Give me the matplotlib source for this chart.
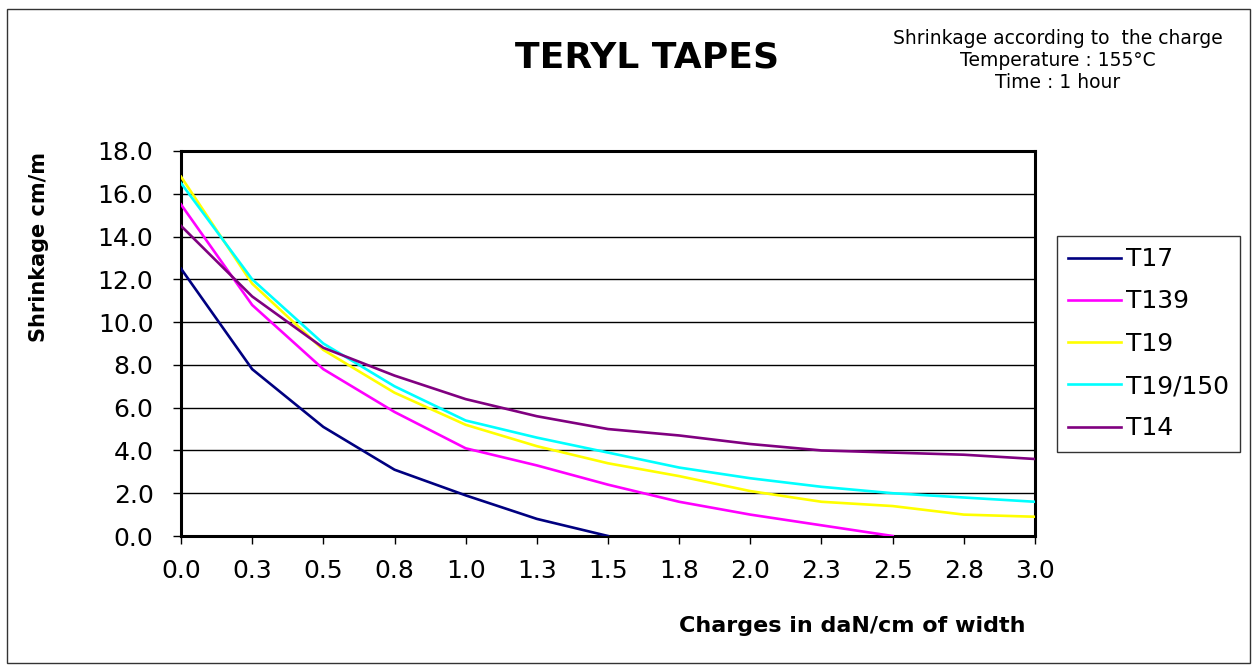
import numpy as np
import matplotlib
matplotlib.use("Agg")
import matplotlib.pyplot as plt
from matplotlib.patches import Rectangle

plt.rcParams['font.family'] = ['DejaVu Sans']

# charges in daN/cm of width (category axis in the original sheet)
charges = [0.0, 0.25, 0.5, 0.75, 1.0, 1.25, 1.5, 1.75, 2.0, 2.25, 2.5, 2.75, 3.0]
tick_labels = ["0.0", "0.3", "0.5", "0.8", "1.0", "1.3", "1.5", "1.8",
               "2.0", "2.3", "2.5", "2.8", "3.0"]

# shrinkage cm/m (None = no point)
t17 = [12.5, 7.8, 5.1, 3.1, 1.9, 0.8, 0.0, None, None, None, None, None, None]
t139 = [15.5, 10.8, 7.8, 5.8, 4.1, 3.3, 2.4, 1.6, 1.0, 0.5, 0.0, None, None]
t19 = [16.8, 11.8, 8.7, 6.7, 5.2, 4.2, 3.4, 2.8, 2.1, 1.6, 1.4, 1.0, 0.9]
t19_150 = [16.5, 12.0, 9.0, 7.0, 5.4, 4.6, 3.9, 3.2, 2.7, 2.3, 2.0, 1.8, 1.6]
t14 = [14.5, 11.2, 8.8, 7.5, 6.4, 5.6, 5.0, 4.7, 4.3, 4.0, 3.9, 3.8, 3.6]

series = [
    ("T17", t17, "#000080"),
    ("T139", t139, "#FF00FF"),
    ("T19", t19, "#FFFF00"),
    ("T19/150", t19_150, "#00FFFF"),
    ("T14", t14, "#800080"),
]

W, H = 1258, 671
fig = plt.figure(figsize=(W / 100, H / 100), dpi=100)
ax = fig.add_axes([181 / W, 1 - 536 / H, (1035 - 181) / W, (536 - 151) / H])

for name, vals, col in series:
    y = np.array([np.nan if v is None else v for v in vals], dtype=float)
    ax.plot(charges, y, color=col, lw=1.9, label=name, zorder=3)

ax.set_xlim(0, 3.0)
ax.set_ylim(0, 18)
ax.set_xticks(charges)
ax.set_xticklabels(tick_labels)
yt = np.arange(0, 18.1, 2.0)
ax.set_yticks(yt)
ax.set_yticklabels([f"{v:.1f}" for v in yt])
ax.tick_params(axis="both", direction="out", length=5.8, width=1, labelsize=18,
               colors="black")
ax.tick_params(axis="y", pad=14)
ax.tick_params(axis="x", pad=11)

# horizontal gridlines
ax.yaxis.grid(True, color="black", lw=1)
ax.set_axisbelow(True)
for s in ax.spines.values():
    s.set_linewidth(2.2)
    s.set_color("black")

# titles / labels
fig.text(647 / W, 1 - 67 / H, "TERYL TAPES", ha="center", va="baseline",
         fontsize=26, fontweight="bold")
sub_lines = ["Shrinkage according to  the charge", "Temperature : 155\u00b0C",
             "Time : 1 hour"]
for i, line in enumerate(sub_lines):
    fig.text(1058 / W, 1 - (44 + 22 * i) / H, line, ha="center",
             va="baseline", fontsize=13.5)
fig.text(39 / W, 1 - 247 / H, "Shrinkage cm/m", rotation=90, ha="center",
         va="center", fontsize=15, fontweight="bold")
fig.text(852 / W, 1 - 632 / H, "Charges in daN/cm of width", ha="center",
         va="baseline", fontsize=16, fontweight="bold")

leg = fig.legend(loc="upper left", bbox_to_anchor=(1057 / W, 1 - 236 / H),
                 fontsize=18, frameon=True, fancybox=False, handlelength=2.1,
                 handletextpad=0.2, labelspacing=0.73, borderpad=0.45,
                 borderaxespad=0)
leg.get_frame().set_edgecolor("black")
leg.get_frame().set_linewidth(1)

# outer chart border
fig.patches.append(Rectangle((7 / W, 1 - 663 / H), (1250 - 7) / W, (663 - 9) / H,
                             transform=fig.transFigure, fill=False,
                             edgecolor="#333333", lw=1))

fig.savefig("out.png", dpi=100)
